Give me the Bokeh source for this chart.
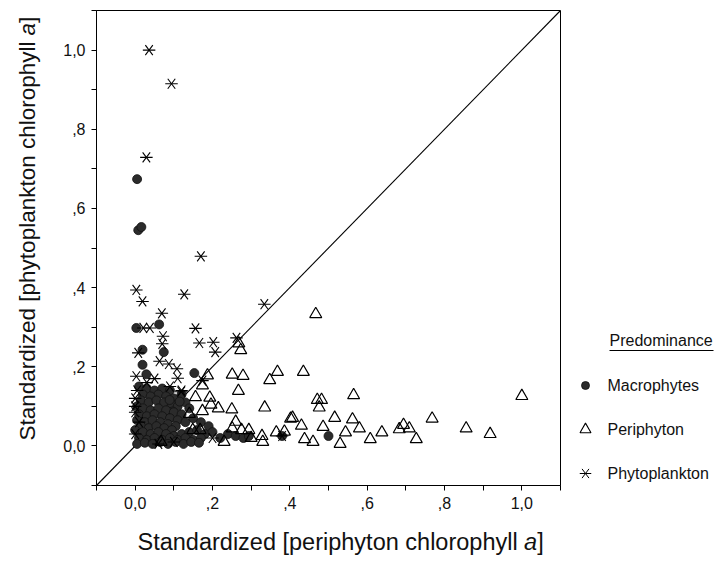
import math
from bokeh.plotting import figure
from bokeh.models import Range1d, FixedTicker
from bokeh.layouts import row, column
from bokeh.embed import file_html
from bokeh.resources import INLINE
from bokeh.core.properties import value

FONT = "Liberation Sans"

# ---------------- data ----------------
tick_values = [-0.1, 0.0, 0.1, 0.2, 0.3, 0.4, 0.5, 0.6, 0.7, 0.8, 0.9, 1.0, 1.1]
tick_labels = ["", "0,0", "", ",2", "", ",4", "", ",6", "", ",8", "", "1,0", ""]
identity_line = [-0.1, 1.1]

macro_x = [0.005, 0.008, 0.016, 0.003, 0.062, 0.019, 0.074, 0.019, 0.029, 0.153,
           0.010, 0.030, 0.050, 0.070, 0.090, 0.060, 0.020, 0.040, 0.080, 0.100,
           0.120, 0.015, 0.035, 0.055, 0.075, 0.095, 0.110, 0.130, 0.140, 0.089,
           0.115, 0.097, 0.005, 0.020, 0.040, 0.060, 0.080, 0.100, 0.120, 0.010,
           0.030, 0.050, 0.070, 0.090, 0.110, 0.130, 0.150, 0.005, 0.025, 0.045,
           0.065, 0.085, 0.105, 0.170, 0.190, 0.015, 0.035, 0.055, 0.075, 0.095,
           0.000, 0.020, 0.040, 0.060, 0.080, 0.100, 0.120, 0.140, 0.160, 0.180,
           0.200, 0.010, 0.030, 0.050, 0.070, 0.090, 0.110, 0.130, 0.150, 0.170,
           0.220, 0.240, 0.260, 0.280, 0.294, 0.005, 0.025, 0.045, 0.065, 0.085,
           0.105, 0.125, 0.145, 0.165, 0.380, 0.500]
macro_y = [0.674, 0.545, 0.553, 0.298, 0.307, 0.243, 0.237, 0.205, 0.181, 0.184,
           0.150, 0.145, 0.140, 0.145, 0.140, 0.130, 0.130, 0.125, 0.125, 0.120,
           0.130, 0.115, 0.110, 0.115, 0.110, 0.105, 0.100, 0.110, 0.095, 0.116,
           0.112, 0.087, 0.100, 0.095, 0.090, 0.095, 0.090, 0.085, 0.080, 0.080,
           0.075, 0.080, 0.075, 0.070, 0.065, 0.060, 0.070, 0.065, 0.060, 0.065,
           0.060, 0.055, 0.050, 0.060, 0.050, 0.050, 0.045, 0.050, 0.045, 0.040,
           0.040, 0.035, 0.030, 0.035, 0.030, 0.025, 0.030, 0.035, 0.040, 0.030,
           0.035, 0.020, 0.015, 0.020, 0.015, 0.020, 0.015, 0.020, 0.015, 0.020,
           0.020, 0.030, 0.025, 0.020, 0.025, 0.005, 0.008, 0.005, 0.010, 0.005,
           0.010, 0.005, 0.010, 0.008, 0.025, 0.025]

peri_x = [0.467, 0.268, 0.273, 0.187, 0.251, 0.279, 0.368, 0.348, 0.435, 0.174,
          0.267, 0.156, 0.193, 0.196, 0.215, 0.174, 0.140, 0.250, 0.335, 0.471,
          0.482, 0.476, 0.565, 1.000, 0.402, 0.407, 0.260, 0.430, 0.516, 0.562,
          0.768, 0.149, 0.168, 0.251, 0.275, 0.294, 0.328, 0.365, 0.386, 0.486,
          0.544, 0.580, 0.638, 0.694, 0.683, 0.709, 0.856, 0.918, 0.727, 0.608,
          0.438, 0.067, 0.330, 0.460, 0.530, 0.230, 0.300]
peri_y = [0.333, 0.259, 0.242, 0.178, 0.180, 0.177, 0.187, 0.166, 0.187, 0.153,
          0.139, 0.123, 0.122, 0.104, 0.095, 0.088, 0.081, 0.092, 0.097, 0.116,
          0.116, 0.097, 0.128, 0.126, 0.069, 0.071, 0.061, 0.051, 0.071, 0.067,
          0.069, 0.040, 0.040, 0.044, 0.040, 0.040, 0.025, 0.034, 0.036, 0.048,
          0.034, 0.044, 0.034, 0.053, 0.042, 0.044, 0.044, 0.030, 0.017, 0.017,
          0.017, 0.010, 0.010, 0.010, 0.005, 0.010, 0.020]

phyto_x = [0.036, 0.094, 0.029, 0.170, 0.003, 0.019, 0.127, 0.069, 0.334, 0.156,
           0.072, 0.070, 0.166, 0.202, 0.207, 0.262, 0.008, 0.063, 0.087, 0.108,
           0.110, 0.003, 0.119, 0.021, 0.038, 0.174, 0.000, 0.000, 0.000, 0.005,
           0.010, 0.030, 0.050, 0.000, 0.090, 0.120, 0.100, 0.060, 0.200, 0.380]
phyto_y = [1.000, 0.915, 0.729, 0.479, 0.394, 0.365, 0.383, 0.335, 0.358, 0.297,
           0.277, 0.258, 0.260, 0.262, 0.237, 0.273, 0.235, 0.214, 0.207, 0.195,
           0.171, 0.176, 0.137, 0.298, 0.298, 0.165, 0.120, 0.100, 0.085, 0.140,
           0.060, 0.160, 0.170, 0.030, 0.150, 0.140, 0.010, 0.005, 0.020, 0.025]

legend_title = "Predominance"
legend_labels = ["Macrophytes", "Periphyton", "Phytoplankton"]
x_title_parts = ["Standardized [periphyton chlorophyll ", "a", "]"]
y_title_parts = ["Standardized [phytoplankton chlorophyll ", "a", "]"]
title_styles = ["normal", "italic", "normal"]

# page geometry (pixels): the plot frame spans y 10..485 and x 95..560
FRAME_TOP, FRAME_BOTTOM, PAGE_H = 10, 485, 571


def blank(width, height, xr, yr):
    f = figure(width=width, height=height, output_backend="svg",
               toolbar_location=None, x_range=Range1d(*xr), y_range=Range1d(*yr),
               x_axis_location=None, y_axis_location=None,
               min_border=0, min_border_left=0, min_border_right=0,
               min_border_top=0, min_border_bottom=0)
    f.grid.visible = False
    f.outline_line_color = None
    return f


# ---------------- main plot ----------------
p = figure(width=502, height=520, output_backend="svg", toolbar_location=None,
           x_range=Range1d(-0.1, 1.1), y_range=Range1d(-0.1, 1.1),
           min_border_left=35, min_border_right=2, min_border_top=FRAME_TOP,
           min_border_bottom=520 - FRAME_BOTTOM)
p.grid.visible = False
p.outline_line_color = "black"
p.outline_line_width = 1

overrides = {v: lab for v, lab in zip(tick_values, tick_labels)}
for ax in (p.xaxis[0], p.yaxis[0]):
    ax.ticker = FixedTicker(ticks=tick_values)
    ax.major_label_overrides = overrides
    ax.minor_tick_line_color = None
    ax.major_tick_in = 0
    ax.major_tick_out = 5
    ax.axis_line_color = "black"
    ax.major_tick_line_color = "black"
    ax.major_label_text_font = FONT
    ax.major_label_text_font_size = "16px"
    ax.major_label_text_color = "#111111"
p.xaxis.major_label_standoff = 6
p.yaxis.major_label_standoff = 6

p.line(identity_line, identity_line, line_color="black", line_width=1.1)

p.scatter(macro_x, macro_y, marker="circle", size=9, fill_color="#2b2b2b",
          line_color="#111111", line_width=0.8)
p.scatter(peri_x, peri_y, marker="triangle", size=12, fill_alpha=0,
          line_color="black", line_width=1.2)
for ang in (0.0, 0.93, -0.93):
    p.scatter(phyto_x, phyto_y, marker="dash", size=12.5, angle=ang,
              line_color="black", line_width=1.1)

# ---------------- y title panel (frame aligned with plot frame; y up) ----------------
FY = 22.5
ylab = blank(60, 520, (0, 60), (PAGE_H - FRAME_BOTTOM, PAGE_H - FRAME_TOP))
y_em = [18.005, 0.556, 0.278]
pos = PAGE_H - 440.0
for txt, em, st in zip(y_title_parts, y_em, title_styles):
    ylab.text(x=[27], y=[pos], text=[txt], angle=math.pi / 2,
              text_font=value(FONT), text_font_size=f"{FY}px",
              text_font_style=st, text_align="left", text_baseline="middle",
              text_color="#111111")
    pos += em * FY

# ---------------- legend panel (page pixel coords, y down) ----------------
q = blank(160, 520, (0, 160), (FRAME_BOTTOM, FRAME_TOP))
q.text(x=[47], y=[340], text=[legend_title], text_font=value(FONT),
       text_font_size="16px", text_baseline="middle", text_align="left",
       text_color="#111111")
q.segment(x0=[47], y0=[350], x1=[151], y1=[350], line_color="black", line_width=1.2)

rows_y = [385, 429, 473]
q.text(x=[45, 45, 45], y=rows_y, text=legend_labels, text_font=value(FONT),
       text_font_size="16px", text_baseline="middle", text_align="left",
       text_color="#111111")
q.scatter([23], [rows_y[0]], marker="circle", size=8, fill_color="#2b2b2b",
          line_color="#111111", line_width=0.8)
q.scatter([23], [rows_y[1]], marker="triangle", size=11, fill_alpha=0,
          line_color="black", line_width=1.1)
for ang in (0.0, 0.93, -0.93):
    q.scatter([23], [rows_y[2]], marker="dash", size=11.5, angle=ang,
              line_color="black", line_width=1.0)

# ---------------- x title panel (page pixel coords, y down) ----------------
FX = 23.5
xlab = blank(722, 51, (0, 722), (PAGE_H, 520))
x_em = [16.452, 0.556, 0.278]
pos = 137.0
for txt, em, st in zip(x_title_parts, x_em, title_styles):
    xlab.text(x=[pos], y=[541], text=[txt], text_font=value(FONT),
              text_font_size=f"{FX}px", text_font_style=st, text_align="left",
              text_baseline="middle", text_color="#111111")
    pos += em * FX

layout = column(row(ylab, p, q), xlab)
open("out.html", "w").write(file_html(layout, INLINE))
